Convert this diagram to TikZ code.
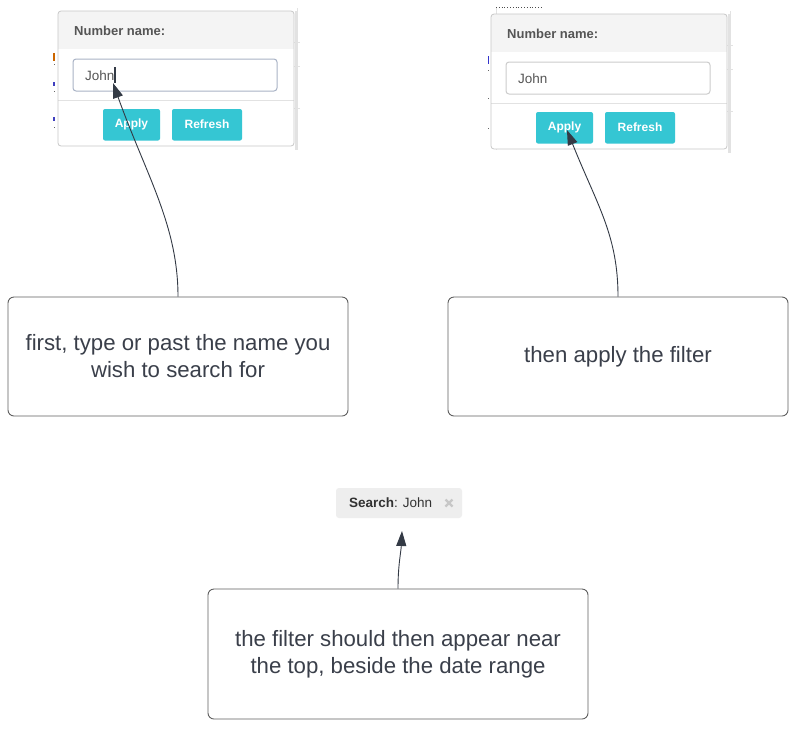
\documentclass[tikz,border=0pt]{standalone}
\usepackage{fontspec}
\setmainfont{Liberation Sans}
\usetikzlibrary{arrows.meta}
\definecolor{btn}{HTML}{35C6D3}
\definecolor{hdrbg}{HTML}{F4F4F4}
\definecolor{hdrtxt}{HTML}{555555}
\definecolor{boxline}{HTML}{5E5E5E}
\definecolor{boxtxt}{HTML}{3A3F4A}
\definecolor{arr}{HTML}{333A45}
\definecolor{chip}{HTML}{EEEEEE}
\definecolor{inpblue}{HTML}{A9B3C6}
\definecolor{inpgray}{HTML}{CCCCCC}
\definecolor{cardline}{HTML}{C8C8C8}
\definecolor{faint}{HTML}{E2E2E2}
\tikzset{
  notebox/.style={draw=boxline, line width=0.9pt, rounded corners=6pt, fill=white,
    minimum width=340pt, minimum height=119pt, text=boxtxt, align=center,
    inner sep=0pt, font=\fontsize{22.2}{27}\selectfont},
  connector/.style={draw=arr, line width=0.9pt, -{Triangle[length=15pt,width=10pt]}},
  uibtn/.style={fill=btn, rounded corners=2pt},
  uibtntxt/.style={text=white, font=\fontsize{12}{14}\selectfont\bfseries, inner sep=0pt},
  hdrlabel/.style={text=hdrtxt, font=\fontsize{13}{15}\selectfont\bfseries, inner sep=0pt, anchor=west},
  inptxt/.style={text=hdrtxt, font=\fontsize{13.5}{15}\selectfont, inner sep=0pt, anchor=west},
}
\newcommand\uipanel[3]{%
  \begin{scope}[shift={#2}]
    % background page bits
    \draw[faint, line width=0.8pt] (239,-3) -- (239,139);
    \foreach \yy in {31,55,97} \draw[faint, line width=0.6pt] (236,\yy) -- (242,\yy);
    \fill[faint] (236.5,0) rectangle (238.5,139);
    % card
    \fill[white, rounded corners=3pt] (0,0) rectangle (236,135);
    \fill[hdrbg, rounded corners=3pt] (0,0) rectangle (236,12);
    \fill[hdrbg] (0,6) rectangle (236,38);
    \node[hdrlabel] (#1hdr) at (16,19.5) {Number name:};
    \draw[#3, line width=1pt, rounded corners=3pt] (15,48) rectangle (219,80);
    \node[inptxt] (#1john) at (27,64.5) {John};
    \draw[faint, line width=0.8pt] (0,89) -- (236,89);
    \fill[uibtn] (45,98) rectangle (102,129.5);
    \fill[uibtn] (114,98) rectangle (184,129.5);
    \node[uibtntxt] (#1apply) at (73.5,113) {Apply};
    \node[uibtntxt] (#1refresh) at (149,113) {Refresh};
    \draw[cardline, line width=0.8pt, rounded corners=3pt] (0,0) rectangle (236,135);
  \end{scope}}
\begin{document}
\begin{tikzpicture}[x=1pt, y=-1pt]
\useasboundingbox (0,0) rectangle (800,740);
\fill[white] (0,0) rectangle (800,740);

% left screenshot
\fill[orange!80!black] (52.5,53) rectangle (54.5,61);
\foreach \yy in {64,91,127} \fill[black!60] (53.5,\yy) rectangle (55,\yy+1.2);
\foreach \yy in {82,117} \fill[blue!50!gray] (52.5,\yy) rectangle (54.5,\yy+4);
\uipanel{p}{(58,11)}{inpblue}
\draw[arr, line width=1.3pt] (115,67) -- (115,83);
\coordinate (tip1) at (113,83);

% right screenshot
\draw[black!70, line width=0.8pt, dotted] (496,7) -- (543,7);
\draw[faint, line width=0.8pt] (496,8) -- (496,150);
\fill[blue!60!gray] (487.5,56) rectangle (489,64);
\foreach \yy in {70,98,128} \fill[black!60] (487.5,\yy) rectangle (489,\yy+1.2);
\uipanel{q}{(491,14)}{inpgray}
\coordinate (tip2) at (567,130);

% search chip
\fill[chip, rounded corners=3pt] (336,488) rectangle (462,518);
\node[anchor=west, inner sep=0pt, text=black!80, font=\fontsize{13.5}{15}\selectfont] (chiptxt) at (349,503) {\textbf{Search}: John};
\draw[black!22, line width=2.2pt] (445.5,499.5) -- (452.5,506.5) (445.5,506.5) -- (452.5,499.5);
\coordinate (tip3) at (402,531);

% note boxes
\node[notebox] (b1) at (178,356.5) {first, type or past the name you\\wish to search for};
\node[notebox] (b2) at (618,356.5) {then apply the filter};
\node[notebox, minimum width=380pt, minimum height=130pt] (b3) at (398,654) {the filter should then appear near\\the top, beside the date range};

% connectors
\draw[connector] (b1.north) .. controls (178,225) and (146,175) .. (tip1);
\draw[connector] (b2.north) .. controls (618,235) and (597,205) .. (tip2);
\draw[connector] (b3.north) .. controls (398,565) and (401,552) .. (tip3);
\end{tikzpicture}
\end{document}
